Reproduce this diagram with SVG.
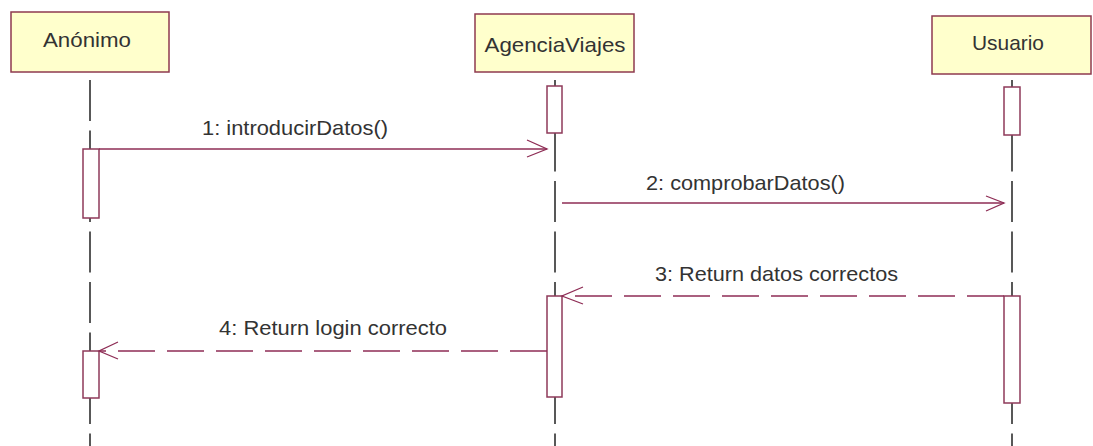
<svg xmlns="http://www.w3.org/2000/svg" width="1093" height="446" viewBox="0 0 1093 446">
<defs>
<style>
.obj{fill:#ffffcc;stroke:#8e3a4f;stroke-width:1.5}
.lbl{font-family:"Liberation Sans",Arial,sans-serif;font-size:21px;fill:#333}
.life{stroke:#222;stroke-width:1.5;stroke-dasharray:41 9.5;fill:none}
.bar{fill:#fff;stroke:#8e3a5a;stroke-width:1.5}
.msg{stroke:#8e2d55;stroke-width:1.3;fill:none}
.ret{stroke:#8e2d55;stroke-width:1.3;fill:none;stroke-dasharray:37 12}
.head{stroke:#8e2d55;stroke-width:1.3;fill:none}
</style>
</defs>
<rect width="1093" height="446" fill="#fff"/>
<g id="lifelines">
<line class="life" x1="90" y1="80" x2="90" y2="446"/>
<line class="life" x1="555" y1="80" x2="555" y2="446"/>
<line class="life" x1="1012" y1="80" x2="1012" y2="446"/>
</g>
<g id="anonimo">
<rect class="obj" x="11" y="12" width="158" height="60"/>
<text class="lbl" x="87" y="47" text-anchor="middle" textLength="88" lengthAdjust="spacingAndGlyphs">Anónimo</text>
<rect class="bar" x="83" y="149" width="16" height="69"/>
<rect class="bar" x="83" y="351" width="16" height="47"/>
</g>
<g id="agenciaviajes">
<rect class="obj" x="475" y="14" width="159" height="58"/>
<text class="lbl" x="555" y="52" text-anchor="middle" textLength="141" lengthAdjust="spacingAndGlyphs">AgenciaViajes</text>
<rect class="bar" x="547" y="86" width="15" height="47"/>
<rect class="bar" x="547" y="296" width="15" height="101"/>
</g>
<g id="usuario">
<rect class="obj" x="932" y="16" width="159" height="58"/>
<text class="lbl" x="1008" y="50" text-anchor="middle" textLength="72" lengthAdjust="spacingAndGlyphs">Usuario</text>
<rect class="bar" x="1004" y="87" width="16" height="48"/>
<rect class="bar" x="1004" y="296" width="16" height="107"/>
</g>
<g id="connectors">
<line class="msg" x1="99" y1="149" x2="547" y2="149"/>
<polyline class="head" points="527,140 547,149 527,157"/>
<text class="lbl" x="202" y="135" textLength="186" lengthAdjust="spacingAndGlyphs">1: introducirDatos()</text>
<line class="msg" x1="562" y1="203" x2="1004" y2="203"/>
<polyline class="head" points="986,196 1004,203 986,211"/>
<text class="lbl" x="646" y="190" textLength="199" lengthAdjust="spacingAndGlyphs">2: comprobarDatos()</text>
<line class="ret" x1="1004" y1="296" x2="562" y2="296"/>
<polyline class="head" points="583,287 562,296 583,304"/>
<text class="lbl" x="655" y="281" textLength="243" lengthAdjust="spacingAndGlyphs">3: Return datos correctos</text>
<line class="ret" x1="547" y1="351" x2="99" y2="351"/>
<polyline class="head" points="118,342 99,351 118,359"/>
<text class="lbl" x="219" y="335" textLength="228" lengthAdjust="spacingAndGlyphs">4: Return login correcto</text>
</g>
</svg>
